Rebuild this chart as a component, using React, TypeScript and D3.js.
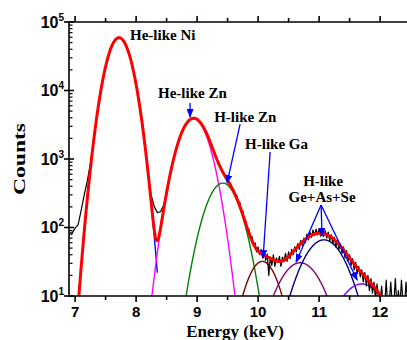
import React from 'react';
import * as d3 from 'd3';

const W = 407;
const H = 340;

// axis ticks
const xTicks = [7, 8, 9, 10, 11, 12];
const xMinorTicks = [7.5, 8.5, 9.5, 10.5, 11.5];
const yDecades = [1, 2, 3, 4, 5];

// fitted peak components (Gaussian parameters)
const peakCenters = [7.72, 8.94, 9.42, 10.07, 10.69, 11.08, 11.7];
const peakAmplitudes = [59000, 3900, 445, 32, 30.6, 66, 15];
const peakSigmas = [0.158, 0.197, 0.218, 0.212, 0.294, 0.288, 0.33];
const peakColors = ['#0000ff', '#ff00ff', '#008000', '#800000', '#800080', '#000080', '#8000ff'];

// measured spectrum [energy keV, counts]
const spectrum: [number, number][] = [
  [6.92, 85], [6.95, 82], [7.0, 98], [7.05, 110], [7.1, 180], [7.15, 300], [7.2, 480], [7.25, 850],
  [7.3, 1730], [7.35, 3800], [7.4, 7590], [7.45, 13700], [7.5, 22400], [7.55, 33100], [7.6, 44300],
  [7.65, 53400], [7.7, 58500], [7.75, 58000], [7.8, 51800], [7.85, 42100], [7.9, 30800], [7.95, 20400],
  [8.0, 12300], [8.05, 6670], [8.1, 3300], [8.15, 1460], [8.2, 560], [8.25, 290], [8.3, 200], [8.35, 165],
  [8.4, 170], [8.45, 210], [8.5, 300], [8.55, 540], [8.6, 870], [8.65, 1300], [8.7, 1850], [8.75, 2450],
  [8.8, 3000], [8.85, 3500], [8.9, 3800], [8.95, 3900], [9.0, 3800], [9.05, 3430], [9.1, 2950],
  [9.15, 2420], [9.2, 1900], [9.25, 1460], [9.3, 1130], [9.35, 880], [9.4, 700], [9.45, 590],
  [9.5, 510], [9.525, 455], [9.55, 440], [9.575, 370], [9.6, 360], [9.625, 285], [9.65, 300],
  [9.675, 230], [9.7, 235], [9.725, 170], [9.75, 175], [9.775, 128], [9.8, 125], [9.825, 92],
  [9.85, 95], [9.875, 70], [9.9, 74], [9.925, 55], [9.95, 60], [9.975, 44], [10.0, 52], [10.025, 40],
  [10.05, 48], [10.075, 36], [10.1, 45], [10.125, 33], [10.15, 41], [10.175, 20], [10.2, 37],
  [10.225, 28], [10.25, 40], [10.275, 27], [10.3, 36], [10.325, 31], [10.35, 38], [10.375, 27],
  [10.4, 37], [10.425, 32], [10.45, 42], [10.475, 32], [10.5, 44], [10.525, 35], [10.55, 48],
  [10.575, 40], [10.6, 52], [10.625, 44], [10.65, 58], [10.675, 48], [10.7, 65], [10.725, 55],
  [10.75, 70], [10.775, 60], [10.8, 80], [10.825, 66], [10.85, 86], [10.875, 72], [10.9, 92],
  [10.925, 76], [10.95, 95], [10.975, 78], [11.0, 96], [11.025, 75], [11.05, 92], [11.075, 74],
  [11.1, 90], [11.125, 70], [11.15, 86], [11.175, 64], [11.2, 78], [11.225, 58], [11.25, 72],
  [11.275, 52], [11.3, 66], [11.325, 48], [11.35, 58], [11.375, 42], [11.4, 52], [11.425, 36],
  [11.45, 46], [11.475, 32], [11.5, 40], [11.525, 28], [11.55, 35], [11.575, 24], [11.6, 31],
  [11.625, 21], [11.65, 27], [11.675, 19], [11.7, 24], [11.725, 16], [11.75, 22], [11.775, 14],
  [11.8, 20], [11.825, 12], [11.85, 18], [11.875, 11], [11.9, 16], [11.925, 9], [11.95, 15],
  [11.975, 9], [12.0, 8], [12.025, 14], [12.05, 7], [12.075, 7], [12.1, 17], [12.125, 7],
  [12.15, 8], [12.175, 16], [12.2, 7], [12.225, 8], [12.25, 18], [12.275, 7], [12.3, 12],
  [12.325, 7], [12.35, 17], [12.375, 8], [12.4, 7], [12.425, 16], [12.45, 8],
];

// annotations: label text, anchor position (energy, counts), text-anchor
const labelTexts = ['He-like Ni', 'He-like Zn', 'H-like Zn', 'H-like Ga', 'H-like', 'Ge+As+Se'];
const labelEnergies = [7.9, 8.36, 9.28, 9.787, 11.066, 11.049];
const labelCounts = [54600, 7780, 3470, 1400, 404, 236];
const labelAnchors = ['start', 'start', 'start', 'start', 'middle', 'middle'];

// arrows: [fromE, fromC, toE, toC]
const arrowList: [number, number, number, number][] = [
  [8.885, 6580, 8.885, 4100],
  [9.705, 3240, 9.492, 447],
  [10.197, 1265, 10.082, 35.9],
  [11.033, 213, 10.623, 31.3],
  [11.033, 213, 11.049, 75.2],
  [11.033, 213, 11.623, 17.1],
];

const SERIF = '"Liberation Serif", "Times New Roman", serif';
const SANS = '"Liberation Sans", Arial, sans-serif';

function gauss(x: number, i: number) {
  const d = x - peakCenters[i];
  return peakAmplitudes[i] * Math.exp(-(d * d) / (2 * peakSigmas[i] * peakSigmas[i]));
}

export default function App() {
  const x0 = 69;
  const yTop = 22;
  const yBot = 296;
  const x = d3.scaleLinear().domain([6.9, 12.55]).range([x0, x0 + 5.65 * 61]);
  const y = d3.scaleLog().domain([10, 1e5]).range([yBot, yTop]);

  const line = d3
    .line<[number, number]>()
    .x((d) => x(d[0]))
    .y((d) => y(Math.max(d[1], 1)));

  const comps = peakCenters.map((c, i) => {
    const pts: [number, number][] = d3
      .range(c - 4 * peakSigmas[i], c + 4 * peakSigmas[i], 0.005)
      .map((e) => [e, gauss(e, i)]);
    return line(pts);
  });

  const fitPts: [number, number][] = d3.range(6.95, 12.005, 0.005).map((e) => {
    let s = 0;
    for (let i = 0; i < peakCenters.length; i++) s += gauss(e, i);
    return [e, s];
  });

  const minorY: number[] = [];
  for (let p = 1; p < 5; p++) for (let m = 2; m <= 9; m++) minorY.push(m * Math.pow(10, p));

  return (
    <svg width={W} height={H} style={{ position: 'absolute', left: 0, top: 0, background: '#fff' }}>
      <defs>
        <clipPath id="plot">
          <rect x={x0} y={yTop} width={W - x0 + 20} height={yBot - yTop} />
        </clipPath>
        <marker id="ah" markerUnits="userSpaceOnUse" markerWidth="9" markerHeight="7" refX="8" refY="3.5" orient="auto">
          <path d="M0,0 L9,3.5 L0,7 z" fill="#0000ff" />
        </marker>
      </defs>
      <rect width={W} height={H} fill="#fff" />
      <g clipPath="url(#plot)">
        {comps.map((d, i) => (
          <path key={i} d={d || ''} fill="none" stroke={peakColors[i]} strokeWidth={1.4} />
        ))}
        <path d={line(spectrum) || ''} fill="none" stroke="#000" strokeWidth={1.2} strokeLinejoin="round" />
        <path d={line(fitPts) || ''} fill="none" stroke="#ff0000" strokeWidth={3} strokeLinejoin="round" />
      </g>
      {arrowList.map((a, i) => (
        <line
          key={i}
          x1={x(a[0])}
          y1={y(a[1])}
          x2={x(a[2])}
          y2={y(a[3])}
          stroke="#0000ff"
          strokeWidth={1.3}
          markerEnd="url(#ah)"
        />
      ))}
      {/* axes */}
      <g stroke="#000" strokeWidth={1.6} fill="none">
        <line x1={x0} y1={yTop} x2={W} y2={yTop} />
        <line x1={x0} y1={yBot} x2={W} y2={yBot} />
        <line x1={x0} y1={yTop - 0.8} x2={x0} y2={yBot + 0.8} />
        {xTicks.map((t) => (
          <g key={t}>
            <line x1={x(t)} x2={x(t)} y1={yBot} y2={yBot + 6} />
            <line x1={x(t)} x2={x(t)} y1={yTop} y2={yTop - 6} />
          </g>
        ))}
        {xMinorTicks.map((t) => (
          <g key={t}>
            <line x1={x(t)} x2={x(t)} y1={yBot} y2={yBot + 4} />
            <line x1={x(t)} x2={x(t)} y1={yTop} y2={yTop - 4} />
          </g>
        ))}
        {yDecades.map((p) => (
          <line key={p} x1={x0 - 5} x2={x0 + 5} y1={y(Math.pow(10, p))} y2={y(Math.pow(10, p))} />
        ))}
        {minorY.map((v) => (
          <line key={v} x1={x0} x2={x0 + 3.5} y1={y(v)} y2={y(v)} strokeWidth={1.2} />
        ))}
      </g>
      {xTicks.map((t) => (
        <text key={t} x={x(t)} y={317} textAnchor="middle" fontFamily={SANS} fontWeight="bold" fontSize={15}>
          {t}
        </text>
      ))}
      {yDecades.map((p) => (
        <text key={p} x={64} y={y(Math.pow(10, p)) + 5.5} textAnchor="end" fontFamily={SANS} fontWeight="bold" fontSize={16}>
          <tspan>10</tspan>
          <tspan dy={-7} fontSize={10}>
            {p}
          </tspan>
        </text>
      ))}
      <text x={235} y={337} textAnchor="middle" fontFamily={SERIF} fontWeight="bold" fontSize={17}>
        Energy (keV)
      </text>
      <text
        transform="translate(25,159) rotate(-90)"
        textAnchor="middle"
        fontFamily={SERIF}
        fontWeight="bold"
        fontSize={17}
        textLength={72}
        lengthAdjust="spacingAndGlyphs"
      >
        Counts
      </text>
      {labelTexts.map((t, i) => (
        <text
          key={t}
          x={x(labelEnergies[i])}
          y={y(labelCounts[i])}
          textAnchor={labelAnchors[i] as any}
          fontFamily={SERIF}
          fontWeight="bold"
          fontSize={15}
        >
          {t}
        </text>
      ))}
    </svg>
  );
}
